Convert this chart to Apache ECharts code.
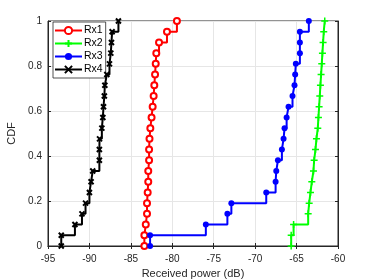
<!DOCTYPE html>
<html>
<head>
<meta charset="utf-8">
<script src="https://cdn.jsdelivr.net/npm/echarts@6/dist/echarts.min.js"></script>
<style>html,body{margin:0;padding:0;background:#fff}#c{width:374px;height:280px}</style>
</head>
<body>
<div id="c"></div>
<script>
var cdfLevels = [0, 0.0476, 0.0952, 0.1429, 0.1905, 0.2381, 0.2857, 0.3333, 0.381, 0.4286, 0.4762, 0.5238, 0.5714, 0.619, 0.6667, 0.7143, 0.7619, 0.8095, 0.8571, 0.9048, 0.9524, 1];
var rx1 = [-83.37, -83.37, -83.2, -83.05, -83.05, -82.97, -82.9, -82.9, -82.8, -82.8, -82.75, -82.65, -82.5, -82.37, -82.25, -82.17, -82.08, -82.0, -81.93, -81.6, -80.64, -79.44];
var rx2 = [-65.65, -65.65, -65.36, -63.6, -63.48, -63.32, -63.16, -62.96, -62.88, -62.72, -62.6, -62.44, -62.36, -62.28, -62.2, -62.12, -62.04, -61.96, -61.88, -61.8, -61.72, -61.6];
var rx3 = [-82.68, -82.68, -75.95, -73.35, -72.87, -68.66, -67.53, -67.45, -67.25, -66.77, -66.57, -66.45, -66.2, -65.97, -65.49, -65.25, -65.17, -65.09, -64.6, -64.6, -64.6, -63.52];
var rx4 = [-93.4, -93.4, -91.75, -90.9, -90.47, -90.0, -89.8, -89.6, -88.8, -88.8, -88.78, -88.5, -88.38, -88.3, -88.2, -88.14, -87.9, -87.58, -87.42, -87.34, -87.26, -86.5];
var seriesNames = ['Rx1', 'Rx2', 'Rx3', 'Rx4'];
var xTicks = [-95, -90, -85, -80, -75, -70, -65, -60];
var yTicks = [0, 0.2, 0.4, 0.6, 0.8, 1];

function pairs(xs) { return xs.map(function (x, i) { return [x, cdfLevels[i]]; }); }

var font = 'Liberation Sans, Arial, Helvetica, sans-serif';
var axisCol = '#262626';
var styles = [
  { color: '#ff0000', symbol: 'emptyCircle', size: 6, bw: 1.5 },
  { color: '#00ff00', symbol: 'path://M5,0L5,10M0,5L10,5', size: 7, bw: 1.5 },
  { color: '#0000ff', symbol: 'circle', size: 6, bw: 0 },
  { color: '#000000', symbol: 'path://M0,0L10,10M10,0L0,10', size: 5, bw: 2 }
];
var datas = [rx1, rx2, rx3, rx4];

var series = datas.map(function (d, i) {
  var s = styles[i];
  return {
    name: seriesNames[i], type: 'line', step: 'end', data: pairs(d),
    symbol: s.symbol, symbolSize: s.size, showAllSymbol: true,
    lineStyle: { color: s.color, width: 2 },
    itemStyle: { color: s.color, borderColor: s.color, borderWidth: s.bw },
    emphasis: { disabled: true }, animation: false, z: 2 + i
  };
});

var chart = echarts.init(document.getElementById('c'), null, { renderer: 'canvas' });
chart.setOption({
  animation: false,
  backgroundColor: '#fff',
  grid: { left: 48, right: 36, top: 21, bottom: 34, show: true, borderColor: axisCol, borderWidth: 1, backgroundColor: '#fff', containLabel: false, outerBoundsMode: 'none' },
  legend: {
    orient: 'vertical', left: 53, top: 22,
    data: seriesNames,
    itemWidth: 27, itemHeight: 9, itemGap: 2,
    padding: [3, 3, 3, 1],
    borderColor: axisCol, borderWidth: 0.8, backgroundColor: '#fff',
    textStyle: { fontFamily: font, fontSize: 10.5, color: '#000', lineHeight: 10, padding: [0, 0, 0, -3] }
  },
  xAxis: [{
    type: 'value', min: xTicks[0], max: xTicks[xTicks.length - 1], interval: 5,
    name: 'Received power (dB)', nameLocation: 'middle', nameGap: 22,
    nameTextStyle: { fontFamily: font, fontSize: 11, color: axisCol },
    axisLine: { show: true, lineStyle: { color: axisCol, width: 1 } },
    axisTick: { show: true, inside: true, length: 3, lineStyle: { color: axisCol } },
    axisLabel: { fontFamily: font, fontSize: 10, color: axisCol, margin: 8 },
    splitLine: { show: true, lineStyle: { color: '#e6e6e6', width: 1 } }
  }, {
    type: 'value', position: 'top', min: xTicks[0], max: xTicks[xTicks.length - 1], interval: 5,
    axisLine: { show: true, lineStyle: { color: axisCol, width: 1 } },
    axisTick: { show: true, inside: true, length: 3, lineStyle: { color: axisCol } },
    axisLabel: { show: false }, splitLine: { show: false }
  }],
  yAxis: [{
    type: 'value', min: 0, max: 1, interval: 0.2,
    name: 'CDF', nameLocation: 'middle', nameGap: 20,
    nameTextStyle: { fontFamily: font, fontSize: 11, color: axisCol },
    axisLine: { show: true, lineStyle: { color: axisCol, width: 1 } },
    axisTick: { show: true, inside: true, length: 3, lineStyle: { color: axisCol } },
    axisLabel: { fontFamily: font, fontSize: 10, color: axisCol, margin: 6 },
    splitLine: { show: true, lineStyle: { color: '#e6e6e6', width: 1 } }
  }, {
    type: 'value', position: 'right', min: 0, max: 1, interval: 0.2,
    axisLine: { show: true, lineStyle: { color: axisCol, width: 1 } },
    axisTick: { show: true, inside: true, length: 3, lineStyle: { color: axisCol } },
    axisLabel: { show: false }, splitLine: { show: false }
  }],
  series: series
});
</script>
</body>
</html>
